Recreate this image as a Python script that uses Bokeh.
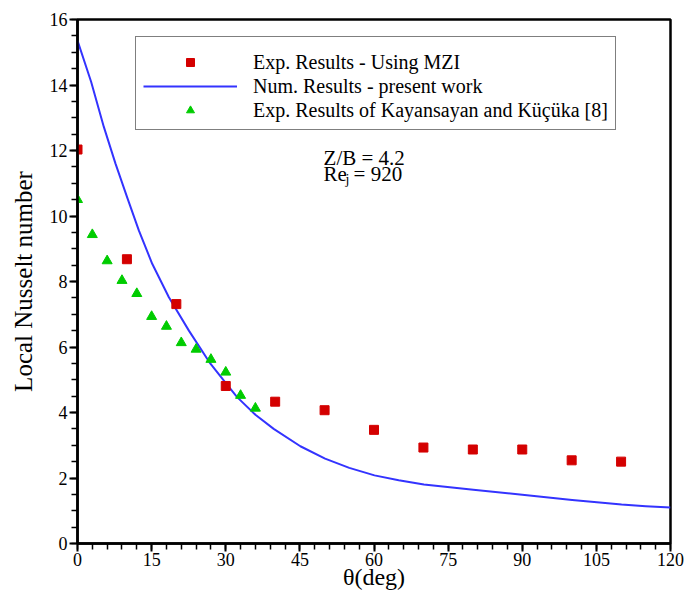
from bokeh.plotting import figure
from bokeh.models import (Range1d, SingleIntervalTicker, Legend, LegendItem, Label, ColumnDataSource)
from bokeh.embed import file_html
from bokeh.resources import INLINE

# Experimental results - Using MZI
mzi_theta = [0, 10, 20, 30, 40, 50, 60, 70, 80, 90, 100, 110]
mzi_nu = [12.03, 8.68, 7.31, 4.81, 4.33, 4.07, 3.47, 2.93, 2.87, 2.87, 2.54, 2.50]

# Experimental results of Kayansayan and Küçüka [8]
kk_theta = [0, 3, 6, 9, 12, 15, 18, 21, 24, 27, 30, 33, 36]
kk_nu = [10.5, 9.43, 8.63, 8.03, 7.63, 6.93, 6.63, 6.13, 5.93, 5.62, 5.23, 4.52, 4.13]

# Numerical results - present work
num_theta = [0, 2.77, 5.33, 7.69, 10.05, 12.41, 15.12, 18.49, 22.54, 26.9, 30.1,
             32.3, 36, 39.7, 45.1, 50.1, 55, 60.1, 65, 70.1, 80.1, 90, 100.1,
             110.1, 115, 120]
num_nu = [15.36, 14.09, 12.72, 11.6, 10.57, 9.56, 8.54, 7.52, 6.5, 5.49, 4.88,
          4.47, 3.93, 3.5, 2.97, 2.59, 2.31, 2.08, 1.93, 1.80, 1.64, 1.49, 1.33,
          1.19, 1.14, 1.10]

x_label = "θ(deg)"
y_label = "Local Nusselt number"
legend_labels = ["Exp. Results - Using MZI", "Num. Results - present work",
                 "Exp. Results of Kayansayan and Küçüka [8]"]

SERIF = "Liberation Serif"

p = figure(width=686, height=593, output_backend="svg", toolbar_location=None,
           x_range=Range1d(0, 120), y_range=Range1d(0, 16),
           min_border_left=77, min_border_right=16, min_border_top=19, min_border_bottom=50)
p.xgrid.visible = False
p.ygrid.visible = False
p.background_fill_color = "white"
p.border_fill_color = "white"
p.outline_line_color = "black"
p.outline_line_width = 2.5
p.outline_line_alpha = 1

p.xaxis.ticker = SingleIntervalTicker(interval=15, num_minor_ticks=5)
p.yaxis.ticker = SingleIntervalTicker(interval=2, num_minor_ticks=4)
for ax in (p.xaxis[0], p.yaxis[0]):
    ax.axis_line_width = 2.5
    ax.axis_line_color = "black"
    ax.major_tick_line_width = 2
    ax.major_tick_line_color = "black"
    ax.minor_tick_line_width = 1.5
    ax.minor_tick_line_color = "black"
    ax.major_tick_out = 8
    ax.major_tick_in = 0
    ax.minor_tick_out = 6
    ax.minor_tick_in = 0
    ax.major_label_text_font = SERIF
    ax.major_label_text_font_size = "18px"
    ax.major_label_text_color = "black"
    ax.axis_label_text_font = SERIF
    ax.axis_label_text_font_style = "normal"
    ax.axis_label_text_color = "black"
p.yaxis.axis_label = y_label
p.yaxis.axis_label_text_font_size = "25px"
p.yaxis.major_label_standoff = 2
p.yaxis.axis_label_standoff = 10
p.xaxis.axis_label = x_label
p.xaxis.axis_label_text_font_size = "24px"
p.xaxis.major_label_standoff = 1
p.xaxis.axis_label_standoff = -5

src_mzi = ColumnDataSource(dict(x=mzi_theta, y=mzi_nu))
src_kk = ColumnDataSource(dict(x=kk_theta, y=kk_nu))
src_num = ColumnDataSource(dict(x=num_theta, y=num_nu))

r_num = p.line("x", "y", source=src_num, line_color="#3333ff", line_width=2,
               line_join="round")
r_kk = p.scatter("x", "y", source=src_kk, marker="triangle", size=10,
                 fill_color="#00cc00", line_color="#00cc00")
r_mzi = p.scatter("x", "y", source=src_mzi, marker="square", size=9,
                  fill_color="#d40000", line_color="#d40000")

legend = Legend(items=[
    LegendItem(label=legend_labels[0], renderers=[r_mzi]),
    LegendItem(label=legend_labels[1], renderers=[r_num]),
    LegendItem(label=legend_labels[2], renderers=[r_kk]),
], location=(58, 413))
legend.title = " "
legend.title_text_font_size = "6px"
legend.title_standoff = 0
legend.label_text_font = SERIF
legend.label_text_font_size = "20px"
legend.label_text_color = "black"
legend.label_height = 24
legend.glyph_height = 20
legend.glyph_width = 94
legend.label_standoff = 16
legend.spacing = 0
legend.padding = 7
legend.margin = 0
legend.border_line_color = "black"
legend.border_line_width = 1.2
legend.background_fill_alpha = 1
p.add_layout(legend, "center")

ann_font = "21px"
ann_x = 49.8
p.add_layout(Label(x=ann_x, y=11.76, text="Z/B = 4.2", text_font=SERIF,
                   text_font_size=ann_font, text_baseline="alphabetic", text_color="black"))
p.add_layout(Label(x=ann_x, y=11.27, text="Re", text_font=SERIF,
                   text_font_size=ann_font, text_baseline="alphabetic", text_color="black"))
p.add_layout(Label(x=ann_x, y=11.27, x_offset=22, y_offset=-5, text="j", text_font=SERIF,
                   text_font_size="14px", text_baseline="alphabetic", text_color="black"))
p.add_layout(Label(x=ann_x, y=11.27, x_offset=30, text="= 920", text_font=SERIF,
                   text_font_size=ann_font, text_baseline="alphabetic", text_color="black"))

open("out.html", "w").write(file_html(p, INLINE))
